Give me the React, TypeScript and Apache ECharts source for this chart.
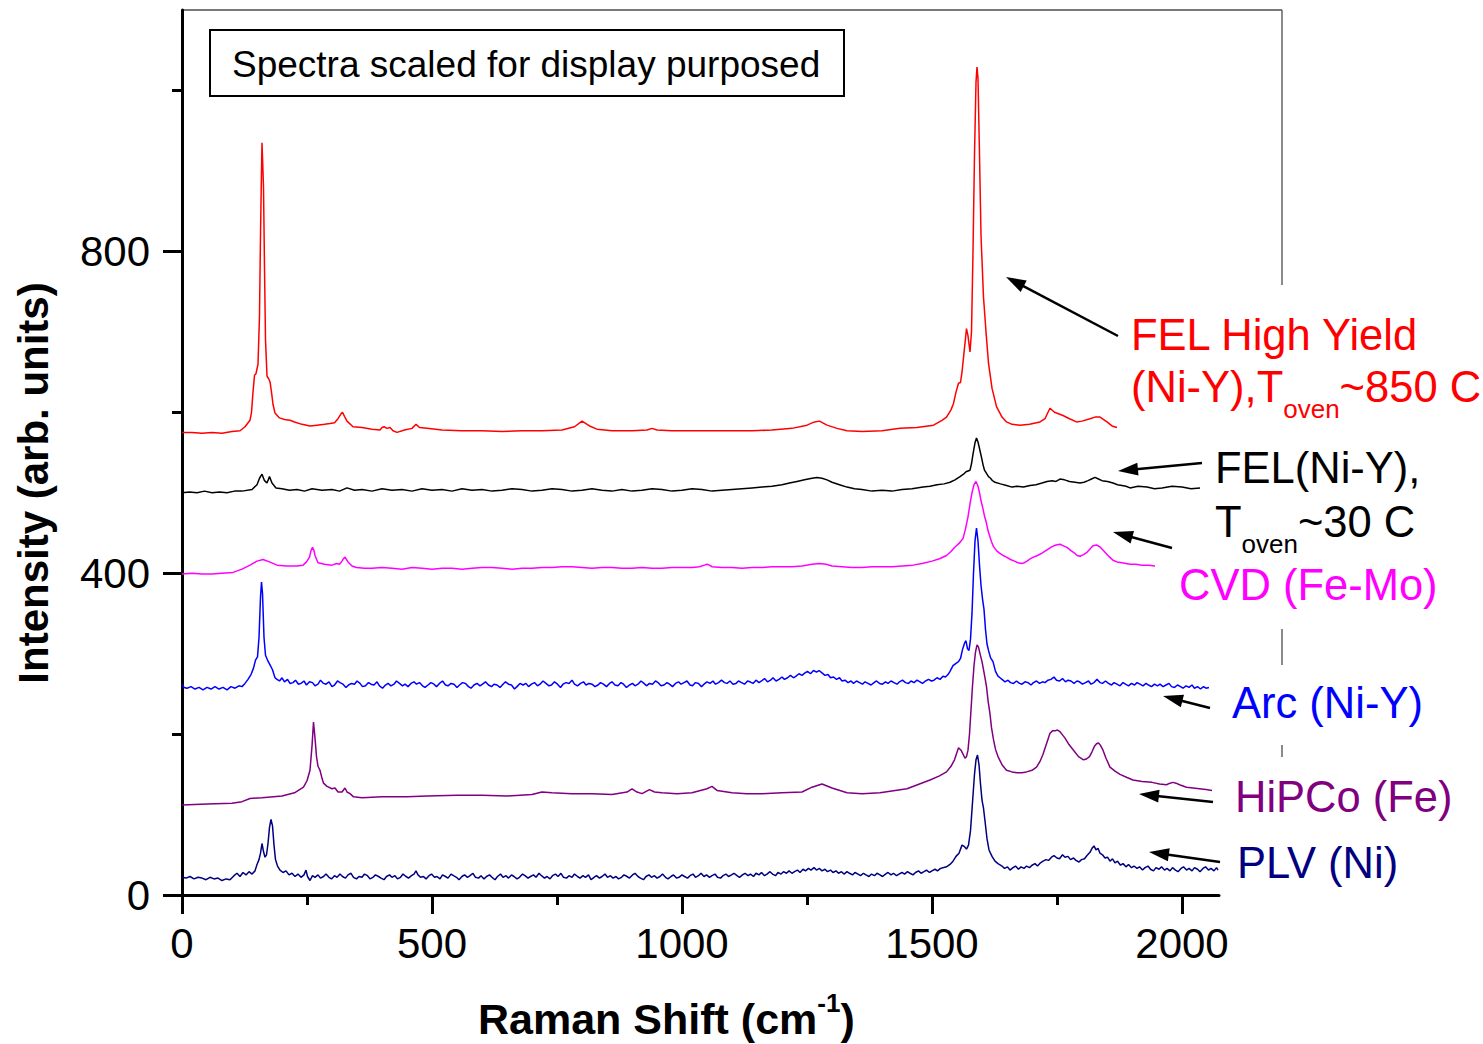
import React, { useEffect, useRef } from "react";
import * as echarts from "echarts";

const W = 1483;
const H = 1044;

// ---------- tick values ----------
const xMajorTicks = [0, 500, 1000, 1500, 2000];
const xMinorTicks = [250, 750, 1250, 1750];
const yMajorTicks = [0, 400, 800];
const yMinorTicks = [200, 600, 1000];
const xMax = 2074;
const yMax = 1100;

// ---------- spectra (Raman shift, intensity) ----------
const felHighYield: [number, number][] = [
  [0,575],[20,575],[40,574],[60,575],[80,574],[100,576],[116,577],[126,582],[136,590],[139,600],[142,625],[145,646],[148,648],[152,660],[155,720],[157,820],[159,900],[160,935],[161,935],[163,880],[165,780],[167,690],[170,645],[173,642],[176,638],[179,625],[182,610],[186,599],[195,593],[205,591],[216,590],[225,588],[240,585],[256,583],[270,584],[285,585],[296,586],[305,587],[312,592],[318,598],[321,600],[325,595],[330,589],[342,582],[360,581],[380,579],[396,578],[400,581],[404,582],[410,580],[416,581],[422,577],[430,575],[445,578],[460,580],[468,585],[475,581],[490,580],[520,578],[560,577],[600,577],[640,576],[680,577],[720,577],[760,578],[785,582],[800,589],[815,583],[830,579],[860,577],[900,577],[930,578],[940,580],[950,578],[980,577],[1020,577],[1060,577],[1100,577],[1140,577],[1180,578],[1220,580],[1250,584],[1265,588],[1275,589],[1290,584],[1310,580],[1330,577],[1360,576],[1400,577],[1436,580],[1470,581],[1503,584],[1520,590],[1529,594],[1538,603],[1543,611],[1548,625],[1553,636],[1557,637],[1560,650],[1565,680],[1569,704],[1572,695],[1576,675],[1579,700],[1582,800],[1585,920],[1588,1010],[1590,1029],[1592,1015],[1595,920],[1598,820],[1603,743],[1608,700],[1613,661],[1620,630],[1629,607],[1640,594],[1649,588],[1660,585],[1676,584],[1695,585],[1716,588],[1726,592],[1732,600],[1736,605],[1745,600],[1762,596],[1775,592],[1789,588],[1800,589],[1816,592],[1826,594],[1836,594],[1850,588],[1860,583],[1870,581]
];

const felRoomTemp: [number, number][] = [
  [0,500],[15,501],[30,500],[45,502],[60,500],[75,501],[90,500],[105,502],[120,502],[140,504],[150,510],[155,518],[160,523],[165,515],[170,512],[175,520],[180,512],[188,506],[200,505],[215,503],[230,504],[245,502],[260,505],[280,503],[300,504],[315,502],[330,506],[345,503],[360,504],[380,502],[400,505],[420,503],[440,504],[460,502],[480,505],[500,503],[520,504],[540,502],[560,505],[580,503],[600,504],[620,502],[640,503],[660,505],[680,504],[700,502],[720,503],[740,505],[760,504],[780,502],[800,503],[820,505],[840,503],[860,502],[880,504],[900,502],[920,503],[940,505],[960,504],[980,502],[1000,503],[1020,505],[1040,504],[1060,502],[1080,503],[1100,504],[1120,505],[1140,506],[1160,507],[1180,508],[1200,510],[1215,512],[1230,514],[1245,516],[1260,518],[1270,519],[1280,518],[1290,516],[1300,513],[1315,510],[1330,507],[1345,505],[1360,504],[1380,502],[1400,503],[1420,502],[1440,504],[1460,505],[1482,507],[1496,508],[1510,510],[1524,511],[1536,513],[1546,516],[1556,520],[1563,523],[1568,526],[1572,527],[1576,528],[1579,536],[1582,548],[1586,562],[1589,568],[1592,563],[1595,555],[1599,544],[1602,535],[1605,528],[1609,524],[1613,520],[1617,518],[1621,515],[1626,513],[1637,511],[1649,509],[1660,507],[1670,508],[1683,507],[1696,509],[1708,510],[1720,512],[1730,514],[1740,515],[1748,514],[1756,517],[1765,516],[1775,514],[1786,513],[1796,512],[1804,513],[1812,515],[1819,517],[1826,519],[1833,517],[1840,515],[1851,514],[1862,512],[1871,510],[1880,509],[1888,508],[1896,506],[1912,508],[1930,507],[1945,505],[1960,506],[1980,508],[2000,507],[2018,505],[2036,506]
];

const cvdFeMo: [number, number][] = [
  [0,399],[20,400],[40,399],[60,399],[80,400],[102,401],[120,405],[136,410],[150,415],[162,417],[175,414],[190,410],[210,409],[230,409],[242,410],[249,414],[255,420],[258,428],[261,432],[264,428],[266,422],[272,413],[285,411],[300,410],[309,412],[315,411],[320,415],[323,418],[326,420],[329,417],[332,414],[340,409],[349,407],[365,406],[380,406],[400,407],[420,406],[440,405],[460,407],[480,406],[500,405],[520,406],[540,406],[560,405],[580,406],[600,407],[620,407],[640,406],[660,405],[680,406],[700,406],[720,407],[740,407],[760,408],[780,408],[800,407],[820,406],[840,407],[860,407],[880,406],[900,406],[920,407],[940,406],[960,406],[980,407],[1000,407],[1020,407],[1035,408],[1045,410],[1050,411],[1055,410],[1060,408],[1080,407],[1100,407],[1120,406],[1140,407],[1160,407],[1180,408],[1200,408],[1220,408],[1240,409],[1260,411],[1275,412],[1288,411],[1300,409],[1320,408],[1340,407],[1360,407],[1380,408],[1400,408],[1420,408],[1440,409],[1462,410],[1480,412],[1500,415],[1515,418],[1529,422],[1538,427],[1545,432],[1554,437],[1562,443],[1567,455],[1572,470],[1576,486],[1580,500],[1584,510],[1588,514],[1592,508],[1595,500],[1598,490],[1602,480],[1605,471],[1609,462],[1612,453],[1616,445],[1619,439],[1623,433],[1629,428],[1635,425],[1642,422],[1649,420],[1657,417],[1665,415],[1672,413],[1679,412],[1685,413],[1690,415],[1697,418],[1703,420],[1711,422],[1720,425],[1730,429],[1740,433],[1748,435],[1756,436],[1763,434],[1770,432],[1778,428],[1785,425],[1790,422],[1796,421],[1803,423],[1810,426],[1816,430],[1822,434],[1829,435],[1835,433],[1840,430],[1846,426],[1852,422],[1857,419],[1862,416],[1870,414],[1880,413],[1888,412],[1896,411],[1908,411],[1920,410],[1933,410],[1946,409]
];

const arcNiY: [number, number][] = [
  [0,262],[4,258],[10,257],[18,259],[26,256],[34,258],[42,255],[50,258],[58,256],[66,259],[74,256],[82,258],[90,255],[98,259],[106,257],[114,260],[120,259],[126,263],[132,268],[138,274],[143,282],[147,292],[151,296],[154,320],[157,370],[159,389],[161,375],[164,320],[167,298],[171,292],[176,286],[181,280],[186,270],[190,268],[195,266],
  [200,270],[205,265],[211,268],[216,263],[222,264],[227,267],[233,262],[238,263],[244,266],[249,261],[255,265],[261,264],[266,260],[272,262],[277,267],[283,263],[288,262],[294,265],[300,259],[305,261],[311,266],[316,264],[322,262],[328,258],[333,261],[339,263],[345,262],[350,266],[356,263],[361,259],[367,260],[373,264],[378,262],[384,261],[390,265],[395,260],[401,257],[407,261],[412,263],[418,260],[424,262],[429,266],[435,263],[441,260],[446,262],[452,259],[458,263],[464,265],[469,262],[475,264],[481,260],[486,258],[492,261],[498,264],[504,262],[509,259],[515,263],[521,266],[527,261],[532,260],[538,263],[544,262],[550,258],[555,261],[561,264],[567,263],[573,259],[578,257],[584,261],[590,263],[596,260],[601,262],[607,265],[613,261],[619,259],[624,262],[630,261],[636,258],[642,262],[647,265],[653,262],[659,261],[665,256],[670,259],[676,263],[682,261],[688,263],[693,259],[699,262],[705,264],[711,260],[716,262],[722,266],[728,263],[734,260],[739,261],[745,265],[751,262],[757,258],[762,262],[768,264],[774,263],[780,267],[785,262],[791,260],[797,263],[803,265],[808,261],[814,263],[820,262],[826,259],[832,261],[837,264],[843,262],[849,259],[855,263],[860,265],[866,261],[872,260],[878,264],[883,262],[889,258],[895,261],[901,263],[906,260],[912,262],[918,266],[924,263],[929,260],[935,263],[941,262],[947,266],[952,264],[958,260],[964,261],[970,264],[975,262],[981,259],[987,263],[993,265],[998,262],[1004,264],[1010,266],[1016,261],[1021,260],[1027,264],[1033,263],[1039,259],[1044,262],[1050,265],[1056,263],[1062,266],[1067,262],[1073,264],[1079,267],[1085,264],[1090,263],[1096,266],[1102,262],[1108,263],[1113,266],[1119,264],[1125,262],[1131,266],[1136,265],[1142,263],[1148,267],[1154,264],[1159,266],[1165,269],[1171,265],[1177,267],[1182,270],[1188,266],[1194,268],[1200,271],[1205,268],[1211,270],[1217,273],[1223,270],[1228,272],[1234,275],[1240,273],[1246,276],[1251,278],[1257,275],[1263,279],[1269,277],[1274,279],[1280,276],[1286,273],[1292,274],[1297,270],[1303,271],[1309,268],[1315,270],[1320,266],[1326,267],[1332,264],[1338,266],[1343,263],[1349,266],[1355,264],[1361,262],[1366,265],[1372,263],[1378,261],[1384,264],[1389,266],[1395,263],[1401,262],[1407,265],[1412,263],[1418,266],[1424,264],[1430,262],[1435,265],[1441,267],[1447,264],[1453,263],[1458,266],[1464,264],[1470,267],[1476,265],[1481,263],[1487,266],[1493,268],[1499,266],[1504,267],[1510,270],[1516,268],[1522,272],[1527,271],
  [1532,274],[1536,278],[1542,285],[1548,288],[1553,290],[1557,294],[1561,305],[1565,313],[1568,316],[1571,306],[1574,304],[1577,318],[1580,350],[1583,400],[1586,440],[1589,456],[1592,440],[1595,410],[1598,385],[1601,368],[1604,355],[1607,330],[1610,312],[1613,304],[1617,295],[1622,290],[1627,278],[1632,272],[1636,270],
  [1640,268],[1646,265],[1652,267],[1657,264],[1663,263],[1669,266],[1675,263],[1680,262],[1686,265],[1692,264],[1698,261],[1703,264],[1709,266],[1715,263],[1721,265],[1726,264],[1732,267],[1738,268],[1744,271],[1749,267],[1755,266],[1761,269],[1767,265],[1772,267],[1778,266],[1784,263],[1790,266],[1795,265],[1801,262],[1807,264],[1813,266],[1818,262],[1824,264],[1830,268],[1836,264],[1841,263],[1847,266],[1853,263],[1859,261],[1864,264],[1870,262],[1876,260],[1882,264],[1887,262],[1893,260],[1899,263],[1905,261],[1910,264],[1916,262],[1922,260],[1928,263],[1933,261],[1939,259],[1945,262],[1951,260],[1956,262],[1962,259],[1968,261],[1974,263],[1979,259],[1985,258],[1991,261],[1997,259],[2002,257],[2008,260],[2014,258],[2020,261],[2025,257],[2031,259],[2037,256],[2043,259],[2048,257],[2054,258]
];

const hipcoFe: [number, number][] = [
  [0,112],[50,113],[100,114],[120,116],[136,120],[160,121],[200,123],[225,127],[243,134],[250,142],[256,155],[260,185],[263,215],[266,195],[269,172],[272,160],[276,155],[280,145],[283,139],[290,135],[300,132],[306,133],[312,128],[320,128],[326,133],[330,128],[336,126],[343,122],[360,121],[400,122],[450,122],[490,123],[550,124],[600,124],[650,123],[700,125],[720,128],[740,127],[780,126],[820,126],[860,125],[890,128],[900,132],[910,128],[920,126],[935,131],[945,128],[960,127],[990,126],[1020,127],[1050,132],[1060,135],[1070,130],[1100,127],[1130,126],[1160,126],[1200,127],[1240,128],[1260,134],[1280,138],[1300,133],[1330,127],[1360,126],[1396,127],[1450,132],[1496,143],[1515,148],[1529,153],[1538,160],[1545,168],[1553,183],[1558,180],[1562,175],[1566,170],[1569,172],[1572,180],[1575,200],[1578,230],[1581,260],[1584,285],[1587,302],[1590,311],[1593,308],[1596,300],[1600,290],[1603,280],[1606,270],[1609,259],[1612,242],[1616,225],[1619,208],[1623,193],[1627,181],[1632,172],[1640,162],[1649,155],[1660,153],[1670,152],[1680,152],[1689,153],[1700,155],[1709,159],[1716,166],[1722,175],[1729,188],[1736,201],[1741,204],[1746,204],[1751,205],[1756,203],[1761,199],[1766,195],[1774,187],[1783,180],[1793,172],[1803,168],[1809,169],[1815,172],[1820,178],[1825,185],[1829,188],[1833,189],[1837,186],[1842,180],[1848,170],[1856,159],[1866,154],[1876,150],[1890,146],[1902,143],[1920,141],[1940,140],[1955,138],[1969,137],[1976,139],[1982,140],[1988,139],[1995,137],[2009,134],[2022,133],[2035,132],[2048,131],[2060,130]
];

const plvNi: [number, number][] = [
  [0,22],[8,21],[16,23],[24,20],[32,22],[40,21],[48,19],[56,22],[64,20],[72,21],[80,18],[88,20],[96,19],[104,24],[110,27],[116,23],[122,28],[128,25],[134,29],[140,26],[146,30],[150,38],[154,44],[157,52],[160,64],[163,54],[166,47],[169,50],[172,64],[175,84],[178,94],[181,86],[184,62],[187,44],[191,36],[196,31],[202,28],[208,30],[214,25],[220,27],[226,23],[232,26],[238,22],[244,25],[248,31],[251,23],
  [256,18],[261,24],[266,22],[272,25],[277,21],[283,23],[288,26],[294,22],[299,20],[305,24],[310,22],[316,26],[321,23],[327,21],[332,25],[338,27],[343,22],[349,20],[354,23],[360,22],[365,26],[371,24],[376,20],[382,22],[387,25],[393,23],[398,21],[404,19],[409,23],[415,25],[420,22],[426,24],[431,20],[437,22],[442,26],[448,23],[453,21],[459,24],[464,26],[468,30],[472,25],[477,22],[483,23],[488,20],[494,24],[499,26],[505,22],[510,23],[516,20],[521,25],[527,23],[532,21],[538,26],[543,24],[549,22],[554,19],[560,23],[565,25],[571,22],[576,24],[582,27],[587,22],[593,21],[598,24],[604,20],[609,23],[615,25],[620,22],[626,19],[631,23],[637,26],[642,22],[648,24],[653,21],[659,25],[664,23],[670,20],[675,22],[681,26],[686,24],[692,21],[697,23],[703,25],[708,22],[714,27],[719,24],[725,21],[730,23],[736,20],[741,24],[747,26],[752,23],[758,27],[763,22],[769,21],[774,24],[780,22],[785,26],[791,23],[796,21],[802,24],[807,22],[813,25],[818,19],[824,22],[829,24],[835,21],[840,23],[846,26],[851,22],[857,24],[862,21],[868,23],[873,20],[879,22],[884,25],[890,23],[895,21],[901,25],[906,27],[912,23],[917,21],[923,19],[928,23],[934,25],[939,22],[945,24],[950,21],[956,23],[961,26],[967,22],[972,20],[978,23],[983,25],[989,21],[994,22],[1000,25],[1005,23],[1011,21],[1016,24],[1022,26],[1027,22],[1033,24],[1038,27],[1044,23],[1049,25],[1055,22],[1060,24],[1066,26],[1071,22],[1077,21],[1082,24],[1088,26],[1093,23],[1099,25],[1104,27],[1110,24],[1115,22],[1121,25],[1126,27],[1132,24],[1137,26],[1143,23],[1148,27],[1154,25],[1159,28],[1165,24],[1170,26],[1176,29],[1181,26],[1187,24],[1192,28],[1198,26],[1203,29],[1209,27],[1214,30],[1220,27],[1225,29],[1231,31],[1236,28],[1242,32],[1247,30],[1253,33],[1258,31],[1264,34],[1269,31],[1275,33],[1280,30],[1286,32],[1291,29],[1297,31],[1302,28],[1308,30],[1313,27],[1319,29],[1324,26],[1330,29],[1335,27],[1341,25],[1346,28],[1352,26],[1357,24],[1363,27],[1368,25],[1374,23],[1379,26],[1385,24],[1390,27],[1396,25],[1401,23],[1407,26],[1412,28],[1418,25],[1423,27],[1429,24],[1434,26],[1440,28],[1445,26],[1451,29],[1456,27],[1462,25],[1467,28],[1473,30],[1478,27],[1484,29],[1489,31],[1495,28],[1500,30],[1506,32],[1511,30],[1517,33],[1522,34],
  [1529,35],[1536,38],[1542,42],[1548,48],[1554,52],[1560,62],[1565,60],[1569,57],[1573,62],[1577,80],[1581,115],[1585,150],[1588,168],[1591,174],[1594,162],[1597,138],[1600,118],[1603,108],[1606,92],[1610,70],[1614,56],[1620,48],[1626,42],[1632,39],
  [1640,36],[1645,33],[1651,35],[1656,31],[1662,34],[1667,36],[1673,32],[1678,35],[1684,33],[1689,36],[1695,34],[1700,37],[1706,39],[1711,36],[1717,40],[1722,42],[1728,44],[1733,43],[1739,47],[1744,49],[1750,46],[1755,45],[1761,50],[1766,47],[1772,48],[1777,44],[1783,46],[1788,43],[1794,41],[1799,44],[1805,45],[1810,49],[1816,53],[1820,58],[1824,61],[1828,56],[1832,58],[1836,52],[1841,50],[1846,46],[1851,47],[1856,42],[1861,45],[1866,40],[1871,42],[1877,37],[1882,39],[1888,35],[1893,38],[1899,34],[1904,36],[1910,33],[1915,35],[1921,31],[1926,34],[1932,36],[1937,32],[1943,30],[1948,34],[1954,32],[1959,35],[1965,31],[1970,33],[1976,30],[1981,34],[1987,31],[1992,29],[1998,33],[2003,35],[2009,31],[2014,33],[2020,30],[2025,34],[2031,32],[2036,29],[2042,33],[2047,35],[2053,31],[2058,33],[2064,30],[2069,34],[2072,31]
];

const seriesNames = [
  "FEL High Yield (Ni-Y), Toven~850 C",
  "FEL(Ni-Y), Toven~30 C",
  "CVD (Fe-Mo)",
  "Arc (Ni-Y)",
  "HiPCo (Fe)",
  "PLV (Ni)",
];
const seriesColors = ["#ff0000", "#000000", "#ff00ff", "#0000ff", "#800080", "#000080"];
const seriesData = [felHighYield, felRoomTemp, cvdFeMo, arcNiY, hipcoFe, plvNi];

const FONT = '"Liberation Sans", Arial, Helvetica, sans-serif';

export default function App() {
  const ref = useRef<HTMLDivElement>(null);

  useEffect(() => {
    const el = ref.current;
    if (!el) return;
    const chart = echarts.init(el, null, { renderer: "svg", width: W, height: H });

    const canvas = document.createElement("canvas");
    const ctx = canvas.getContext("2d") as CanvasRenderingContext2D;
    const fontStr = (size: number, bold?: boolean) => `${bold ? "bold " : ""}${size}px ${FONT}`;
    const measure = (t: string, size: number, bold?: boolean) => {
      ctx.font = fontStr(size, bold);
      return ctx.measureText(t).width;
    };

    const graphics: any[] = [];

    // frame (top and right, thin gray)
    const frameStyle = { stroke: "#4d4d4d", lineWidth: 1.3 };
    graphics.push({ type: "line", silent: true, shape: { x1: 182, y1: 10, x2: 1282, y2: 10 }, style: frameStyle });
    [[10, 285], [629, 665], [745, 757]].forEach(([a, b]) => {
      graphics.push({ type: "line", silent: true, shape: { x1: 1282, y1: a, x2: 1282, y2: b }, style: frameStyle });
    });

    type Part = { text: string; size: number; base: number; bold?: boolean };
    const addText = (parts: Part[], x0: number, color: string) => {
      let x = x0;
      for (const p of parts) {
        graphics.push({
          type: "text",
          silent: true,
          x,
          y: p.base - 0.3465 * p.size,
          style: {
            text: p.text,
            fill: color,
            font: fontStr(p.size, p.bold),
            align: "left",
            verticalAlign: "middle",
            textAlign: "left",
            textVerticalAlign: "middle",
          },
        });
        x += measure(p.text, p.size, p.bold);
      }
    };

    const addArrow = (tx: number, ty: number, hx: number, hy: number) => {
      const dx = hx - tx;
      const dy = hy - ty;
      const len = Math.sqrt(dx * dx + dy * dy);
      const ux = dx / len;
      const uy = dy / len;
      const headLen = 20;
      const halfW = 6.5;
      const bx = hx - ux * headLen;
      const by = hy - uy * headLen;
      graphics.push({ type: "line", silent: true, shape: { x1: tx, y1: ty, x2: bx + ux * 2, y2: by + uy * 2 }, style: { stroke: "#000", lineWidth: 2.5 } });
      graphics.push({
        type: "polygon",
        silent: true,
        shape: { points: [[hx, hy], [bx - uy * halfW, by + ux * halfW], [bx + uy * halfW, by - ux * halfW]] },
        style: { fill: "#000" },
      });
    };

    // note box
    graphics.push({ type: "rect", silent: true, shape: { x: 210, y: 30, width: 634, height: 66 }, style: { fill: "#fff", stroke: "#000", lineWidth: 2 } });
    addText([{ text: "Spectra scaled for display purposed", size: 37, base: 77 }], 232, "#000");

    // labels
    const LS = 43.5;
    const SS = 26;
    addText([{ text: "FEL High Yield", size: LS, base: 350 }], 1131, "#ff0000");
    addText([
      { text: "(Ni-Y),T", size: LS, base: 402 },
      { text: "oven", size: SS, base: 418 },
      { text: "~850 C", size: LS, base: 402 },
    ], 1131, "#ff0000");
    addText([{ text: "FEL(Ni-Y),", size: LS, base: 483 }], 1215, "#000000");
    addText([
      { text: "T", size: LS, base: 537 },
      { text: "oven", size: SS, base: 553 },
      { text: "~30 C", size: LS, base: 537 },
    ], 1215, "#000000");
    addText([{ text: "CVD (Fe-Mo)", size: LS, base: 600 }], 1179, "#ff00ff");
    addText([{ text: "Arc (Ni-Y)", size: LS, base: 718 }], 1232, "#0000ff");
    addText([{ text: "HiPCo (Fe)", size: LS, base: 812 }], 1235, "#800080");
    addText([{ text: "PLV (Ni)", size: LS, base: 878 }], 1237, "#000080");

    // arrows
    addArrow(1118, 336, 1006, 277);
    addArrow(1202, 463, 1118, 471);
    addArrow(1172, 548, 1113, 532);
    addArrow(1210, 708, 1163, 696);
    addArrow(1213, 802, 1139, 794);
    addArrow(1220, 862, 1149, 852);

    // axis titles
    addText([
      { text: "Raman Shift (cm", size: 43, base: 1034, bold: true },
      { text: "-1", size: 26, base: 1012, bold: true },
      { text: ")", size: 43, base: 1034, bold: true },
    ], 478, "#000");
    graphics.push({
      type: "text",
      silent: true,
      x: 33,
      y: 483,
      rotation: Math.PI / 2,
      style: {
        text: "Intensity (arb. units)",
        fill: "#000",
        font: fontStr(42, true),
        align: "center",
        verticalAlign: "middle",
        textAlign: "center",
        textVerticalAlign: "middle",
      },
    });

    const axisCommon = {
      type: "value" as const,
      splitLine: { show: false },
      axisPointer: { show: false },
    };
    const plain = (v: number) => String(v);

    const option: any = {
      animation: false,
      backgroundColor: "#ffffff",
      grid: { left: 182, top: 10, width: 1219 - 182, height: 885, containLabel: false },
      xAxis: [
        {
          ...axisCommon,
          min: 0,
          max: xMax,
          position: "bottom",
          axisLine: { show: true, onZero: false, lineStyle: { color: "#000", width: 3 } },
          axisTick: { show: true, inside: false, length: 19, customValues: xMajorTicks, lineStyle: { color: "#000", width: 3 } },
          axisLabel: { show: true, customValues: xMajorTicks, formatter: plain, margin: 27, fontSize: 42, color: "#000", fontFamily: FONT },
        },
        {
          ...axisCommon,
          min: 0,
          max: xMax,
          position: "bottom",
          axisLine: { show: false, onZero: false },
          axisTick: { show: true, inside: false, length: 10, customValues: xMinorTicks, lineStyle: { color: "#000", width: 3 } },
          axisLabel: { show: false },
        },
      ],
      yAxis: [
        {
          ...axisCommon,
          min: 0,
          max: yMax,
          position: "left",
          axisLine: { show: true, onZero: false, lineStyle: { color: "#000", width: 3 } },
          axisTick: { show: true, inside: false, length: 19, customValues: yMajorTicks, lineStyle: { color: "#000", width: 3 } },
          axisLabel: { show: true, customValues: yMajorTicks, formatter: plain, margin: 32, fontSize: 42, color: "#000", fontFamily: FONT },
        },
        {
          ...axisCommon,
          min: 0,
          max: yMax,
          position: "left",
          axisLine: { show: false, onZero: false },
          axisTick: { show: true, inside: false, length: 10, customValues: yMinorTicks, lineStyle: { color: "#000", width: 3 } },
          axisLabel: { show: false },
        },
      ],
      series: seriesData.map((d, i) => ({
        name: seriesNames[i],
        type: "line",
        xAxisIndex: 0,
        yAxisIndex: 0,
        data: d,
        showSymbol: false,
        symbol: "none",
        silent: true,
        clip: true,
        lineStyle: { color: seriesColors[i], width: 1.5 },
        itemStyle: { color: seriesColors[i] },
        z: 3,
      })),
      graphic: { elements: graphics },
    };

    chart.setOption(option);
    return () => {
      chart.dispose();
    };
  }, []);

  return (
    <div
      ref={ref}
      style={{ position: "absolute", left: 0, top: 0, width: W, height: H, background: "#fff" }}
    />
  );
}
